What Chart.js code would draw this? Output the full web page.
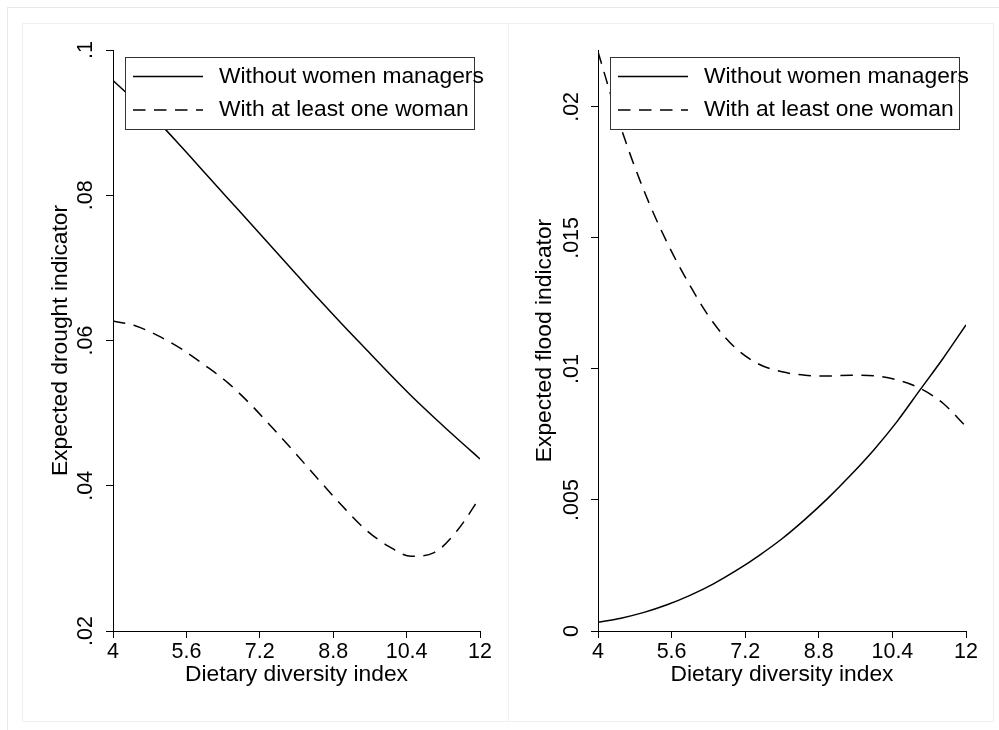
<!DOCTYPE html>
<html>
<head>
<meta charset="utf-8">
<script src="https://cdn.jsdelivr.net/npm/chart.js@4.4.1/dist/chart.umd.min.js"></script>
<style>
  body { margin: 0; background: #fff; width: 999px; height: 730px; overflow: hidden; position: relative; }
  #frame { position: absolute; left: 7px; top: 7px; width: 1010px; height: 740px; border: 1px solid #e4eaea; }
  .panel { position: absolute; top: 23px; height: 697px; border: 1px solid #edf1f1; }
  canvas { position: absolute; top: 23px; }
</style>
</head>
<body>
<div id="frame"></div>
<div class="panel" style="left:22px; width:485px;"></div>
<div class="panel" style="left:508px; width:484px;"></div>
<canvas id="drought" width="486" height="697" style="left:22px;"></canvas>
<canvas id="flood" width="485" height="697" style="left:508px;"></canvas>
<script>
// values
const dietIndex = [4, 4.5, 5, 5.5, 6, 6.5, 7, 7.5, 8, 8.5, 9, 9.5, 10, 10.5, 11, 11.5, 12];

const droughtWithout = [0.0958, 0.0929, 0.0900, 0.0866, 0.0831, 0.0796, 0.0761, 0.0726, 0.0691,
                        0.0656, 0.0622, 0.0589, 0.0556, 0.0524, 0.0494, 0.0465, 0.0437];
const droughtWith = [0.0627, 0.0620, 0.0606, 0.0588, 0.0566, 0.0542, 0.0512, 0.0478, 0.0443,
                     0.0407, 0.0372, 0.0340, 0.0317, 0.0303, 0.0308, 0.0338, 0.0384];

const floodWithout = [0.00033, 0.00049, 0.00071, 0.00100, 0.00136, 0.00179, 0.00230, 0.00288, 0.00352,
                      0.00426, 0.00507, 0.00596, 0.00692, 0.00799, 0.00920, 0.01040, 0.01168];
const floodWith = [0.0221, 0.0192, 0.0168, 0.01483, 0.01318, 0.01178, 0.01078, 0.01018, 0.00989,
                   0.00976, 0.00973, 0.00976, 0.00974, 0.00958, 0.00926, 0.00869, 0.0078];

const seriesLabels = ['Without women managers', 'With at least one woman'];
const xTicks = [4, 5.6, 7.2, 8.8, 10.4, 12];
const droughtTicks = [0.02, 0.04, 0.06, 0.08, 0.1];
const floodTicks = [0, 0.005, 0.01, 0.015, 0.02];

const FONT = '"Liberation Sans", Arial, Helvetica, sans-serif';
Chart.defaults.font.family = FONT;
Chart.defaults.color = '#000';

// Stata style legend: white box with border inside the plot region
const boxLegend = {
    id: 'boxLegend',
    afterDatasetsDraw(chart, args, opts) {
        const { ctx, chartArea } = chart;
        const x0 = Math.round(chartArea.left + 12);
        const y0 = Math.round(chartArea.top + 7);
        ctx.save();
        ctx.fillStyle = '#fff';
        ctx.fillRect(x0, y0, opts.width, opts.height);
        ctx.strokeStyle = '#333';
        ctx.lineWidth = 1;
        ctx.strokeRect(x0 + 0.5, y0 + 0.5, opts.width, opts.height);
        ctx.font = '22.8px ' + FONT;
        ctx.textBaseline = 'middle';
        chart.data.datasets.forEach((ds, i) => {
            const y = y0 + 19.5 + i * 33.5;
            ctx.beginPath();
            ctx.setLineDash(ds.borderDash || []);
            ctx.lineWidth = ds.borderWidth;
            ctx.strokeStyle = ds.borderColor;
            ctx.moveTo(x0 + 8, y);
            ctx.lineTo(x0 + 78, y);
            ctx.stroke();
            ctx.setLineDash([]);
            ctx.fillStyle = '#000';
            ctx.fillText(ds.label, x0 + 94, y);
        });
        ctx.restore();
    }
};

function fmtTick(v) {
    if (v === 0) return '0';
    return String(+v.toFixed(4)).replace(/^0\./, '.');
}

function pairs(ys) {
    return dietIndex.map((x, i) => ({ x: x, y: ys[i] }));
}

function makeChart(id, yTitle, yTicks, yMin, yMax, solid, dashed, opt) {
    const ctx = document.getElementById(id).getContext('2d');
    return new Chart(ctx, {
        type: 'line',
        data: {
            datasets: [
                {
                    label: seriesLabels[0],
                    data: pairs(solid),
                    borderColor: '#000',
                    borderWidth: 1.5,
                    pointRadius: 0,
                    fill: false,
                    cubicInterpolationMode: 'monotone'
                },
                {
                    label: seriesLabels[1],
                    data: pairs(dashed),
                    borderColor: '#000',
                    borderWidth: 1.5,
                    borderDash: [12.5, 8.5],
                    pointRadius: 0,
                    fill: false,
                    cubicInterpolationMode: 'monotone'
                }
            ]
        },
        options: {
            responsive: false,
            animation: false,
            layout: { padding: { top: 27, right: opt.rightPad, left: 0, bottom: 0 } },
            scales: {
                x: {
                    type: 'linear',
                    min: 4,
                    max: 12,
                    afterBuildTicks: (s) => { s.ticks = xTicks.map(v => ({ value: v })); },
                    afterFit: (s) => { s.height = 89; },
                    grid: { drawOnChartArea: false, drawTicks: true, tickLength: 7, color: '#000' },
                    border: { display: true, color: '#000', width: 1 },
                    ticks: {
                        autoSkip: false,
                        maxRotation: 0,
                        padding: 1,
                        font: { size: 21.5 },
                        callback: (v) => String(+v.toFixed(1))
                    },
                    title: {
                        display: true,
                        text: 'Dietary diversity index',
                        font: { size: 22.8 },
                        padding: { top: 0, bottom: 32 }
                    }
                },
                y: {
                    type: 'linear',
                    min: yMin,
                    max: yMax,
                    bounds: 'data',
                    afterBuildTicks: (s) => { s.ticks = yTicks.map(v => ({ value: v })); },
                    afterFit: (s) => { s.width = opt.axisWidth; },
                    grid: { drawOnChartArea: false, drawTicks: true, tickLength: 7, color: '#000' },
                    border: { display: true, color: '#000', width: 1 },
                    ticks: {
                        autoSkip: false,
                        minRotation: 90,
                        maxRotation: 90,
                        crossAlign: 'center',
                        padding: opt.tickPad,
                        font: { size: 21.5 },
                        callback: (v) => fmtTick(v)
                    },
                    title: {
                        display: true,
                        text: yTitle,
                        font: { size: 22.8 },
                        padding: { top: opt.titlePad, bottom: 0 }
                    }
                }
            },
            plugins: {
                legend: { display: false },
                tooltip: { enabled: false },
                boxLegend: { width: 349, height: 72 }
            }
        },
        plugins: [boxLegend]
    });
}

makeChart('drought', 'Expected drought indicator', droughtTicks, 0.02, 0.1,
    droughtWithout, droughtWith, { rightPad: 28, axisWidth: 91, tickPad: 5, titlePad: 25.5 });

makeChart('flood', 'Expected flood indicator', floodTicks, 0, 0.02217,
    floodWithout, floodWith, { rightPad: 27, axisWidth: 90, tickPad: -2, titlePad: 23.5 });
</script>
</body>
</html>
